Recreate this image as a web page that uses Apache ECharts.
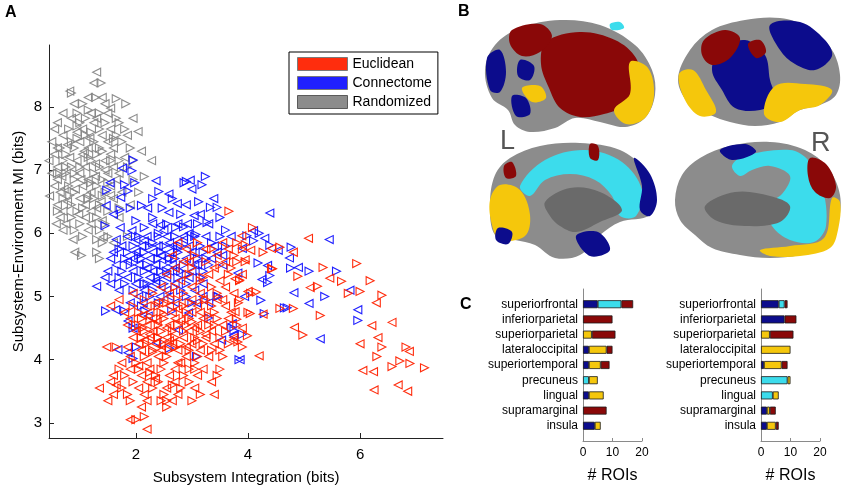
<!DOCTYPE html>
<html lang="en">
<head>
    <meta charset="UTF-8">
    <title>Subsystem integration figure</title>
    <script src="https://cdn.jsdelivr.net/npm/echarts@6.0.0/dist/echarts.min.js"></script>
    <style>
        html, body { margin: 0; padding: 0; background: #fff; }
        #main { width: 850px; height: 490px; }
    </style>
</head>
<body>
<div id="main"></div>
<script type="text/javascript">
    // ---- panel A: scatter points [integration, MI] ----
    var xTicks = [2, 4, 6];
    var yTicks = [3, 4, 5, 6, 7, 8];

    var eucLeft = [
        [2.75,5.85],[3.55,5.85],[2.9,5.75],[3.65,5.75],[2.65,5.65],[3.45,5.65],[2.85,5.55],[3.6,5.55],
        [2.7,5.45],[3.4,5.45],[2.55,5.35],[3.3,5.35],[3.9,5.35],[2.8,5.25],[3.5,5.25],[2.45,5.15],
        [3.0,5.15],[3.6,5.15],[1.95,5.05],[2.6,5.05],[3.15,5.05],[3.75,5.05],[1.7,4.95],[2.5,4.95],
        [3.0,4.95],[3.55,4.95],[1.55,4.85],[2.2,4.85],[2.6,4.85],[3.1,4.85],[3.6,4.85],[1.8,4.75],
        [2.25,4.75],[2.65,4.75],[3.15,4.75],[3.7,4.75],[1.9,4.65],[2.3,4.65],[2.7,4.65],[3.2,4.65],
        [3.65,4.65],[1.85,4.55],[2.2,4.55],[2.6,4.55],[3.1,4.55],[3.55,4.55],[2.0,4.45],[2.3,4.45],
        [2.95,4.45],[3.35,4.45],[1.95,4.35],[2.25,4.35],[2.55,4.35],[2.85,4.35],[3.25,4.35],[3.75,4.35],
        [2.05,4.25],[2.35,4.25],[2.65,4.25],[3.0,4.25],[3.4,4.25],[1.48,4.2],[1.85,4.2],[2.1,4.15],
        [2.45,4.15],[2.75,4.15],[3.15,4.15],[1.9,4.05],[2.4,4.05],[2.9,4.05],[3.3,4.05],[1.75,3.95],
        [2.2,3.95],[2.75,3.95],[1.9,3.85],[2.25,3.85],[2.7,3.85],[3.2,3.85],[1.6,3.75],[2.1,3.75],
        [2.6,3.75],[3.1,3.75],[1.55,3.65],[2.2,3.65],[2.7,3.65],[1.35,3.55],[2.05,3.55],[2.55,3.55],
        [3.05,3.55],[1.6,3.45],[2.15,3.45],[2.75,3.45],[3.4,3.45],[1.5,3.35],[2.2,3.35],[2.65,3.35],
        [2.1,3.25],[1.9,3.05],[2.2,2.9],
        [2.12,4.7],[2.38,4.6],[2.55,4.5],[2.8,4.62],[3.05,4.5],[2.25,4.4],[2.6,4.3],[2.9,4.2],
        [2.35,4.9],[2.75,4.8],[3.2,4.95],[2.15,4.3],[2.45,4.22],[3.25,4.4],[2.05,3.9],[2.35,3.7],
        [2.8,3.95],[3.35,3.65],[1.65,3.6],[3.0,4.75],[3.45,4.95],[2.95,5.55],[3.25,5.75],
        [5.08,5.92],[6.29,4.9],[5.46,5.29],[5.11,5.14],[4.83,4.51],[6.21,4.54],[6.57,4.59],[6.32,4.35],
        [6.0,4.25],[6.88,4.13],[6.05,3.83],[6.24,3.81],[6.25,3.52],[6.68,3.6],[6.85,3.5],[4.2,4.06],
        [3.89,5.96],[4.05,5.73],[4.42,5.76],[4.81,5.7],[3.95,5.58],[3.77,5.28],[4.0,5.08],[3.77,4.76],
        [4.27,4.72],[3.9,4.5],[3.74,4.31]
    ];
    var eucRight = [
        [3.1,5.85],[3.8,5.85],[3.35,5.75],[3.9,5.75],[3.05,5.65],[3.75,5.65],[3.25,5.55],[3.95,5.55],
        [3.0,5.45],[3.7,5.45],[2.95,5.35],[3.65,5.35],[3.15,5.25],[3.85,5.25],[2.7,5.15],[3.35,5.15],
        [2.3,5.05],[2.85,5.05],[3.45,5.05],[4.05,5.05],[2.15,4.95],[2.75,4.95],[3.25,4.95],[3.85,4.95],
        [1.95,4.85],[2.4,4.85],[2.85,4.85],[3.35,4.85],[2.05,4.75],[2.45,4.75],[2.9,4.75],[3.4,4.75],
        [4.0,4.75],[2.1,4.65],[2.5,4.65],[2.95,4.65],[3.45,4.65],[2.05,4.55],[2.4,4.55],[2.9,4.55],
        [3.3,4.55],[3.8,4.55],[2.15,4.45],[2.45,4.45],[2.65,4.45],[3.15,4.45],[3.6,4.45],[2.1,4.35],
        [2.4,4.35],[2.7,4.35],[3.05,4.35],[3.5,4.35],[2.2,4.25],[2.5,4.25],[2.8,4.25],[3.2,4.25],
        [3.65,4.25],[1.65,4.2],[3.9,4.2],[2.3,4.15],[2.6,4.15],[2.95,4.15],[3.35,4.15],[2.15,4.05],
        [2.55,4.05],[3.1,4.05],[3.55,4.05],[2.0,3.95],[2.5,3.95],[3.05,3.95],[2.05,3.85],[2.45,3.85],
        [2.95,3.85],[3.5,3.85],[1.8,3.75],[2.35,3.75],[2.85,3.75],[3.45,3.75],[1.95,3.65],[2.4,3.65],
        [2.95,3.65],[1.75,3.55],[2.3,3.55],[2.8,3.55],[1.85,3.45],[2.5,3.45],[3.15,3.45],[1.9,3.35],
        [2.45,3.35],[3.0,3.35],[2.55,3.25],[2.15,3.1],[2.0,3.05],
        [2.25,4.62],[2.5,4.72],[2.75,4.55],[3.0,4.6],[2.12,4.5],[2.4,4.35],[2.7,4.2],[3.1,4.3],
        [2.55,4.9],[2.95,4.9],[3.3,4.7],[2.3,4.12],[2.85,4.45],[3.4,4.55],[2.25,3.8],[2.65,3.6],
        [3.05,3.85],[1.7,3.85],[3.5,4.15],[2.55,3.35],[3.2,5.3],[3.5,5.5],
        [5.94,5.52],[5.34,5.46],[6.18,5.25],[6.39,5.02],[6.0,5.08],[5.79,5.05],[5.67,5.24],[5.24,5.16],
        [4.89,5.32],[5.29,4.7],[4.98,4.39],[6.39,4.2],[6.82,4.2],[6.3,4.05],[6.71,3.98],[6.57,3.89],
        [6.89,3.94],[7.15,3.87],[4.57,4.81],[4.81,4.81],[4.44,5.44],[4.08,6.09],[3.66,6.35],[4.15,5.07],
        [3.95,5.82],[4.27,5.7],[4.57,5.78],[3.8,5.55],[4.42,5.44],[3.85,5.26],[3.83,4.9],[4.04,4.73],
        [3.8,4.64],[3.99,4.38],[3.82,4.28]
    ];

    var conLeft = [
        [1.76,7.03],[1.54,6.8],[1.73,6.57],[1.47,6.44],[1.72,6.09],[2.36,6.83],[2.59,6.62],[2.97,6.84],
        [3.0,6.7],[2.74,6.47],[3.39,6.55],[2.21,6.4],[2.59,6.33],[3.04,6.28],[2.92,6.15],[2.44,6.13],
        [1.93,6.04],[4.39,6.32],
        [2.3,6.15],[2.75,6.15],[3.3,6.15],[1.85,5.95],[2.2,5.95],[2.55,5.95],[2.85,5.95],[3.25,5.95],
        [3.7,5.95],[1.75,5.8],[2.1,5.8],[2.4,5.8],[2.65,5.8],[2.95,5.8],[3.4,5.8],[1.6,5.7],
        [2.0,5.7],[2.3,5.7],[2.6,5.7],[3.0,5.7],[3.45,5.7],[1.55,5.6],[1.95,5.6],[2.25,5.6],
        [2.55,5.6],[2.9,5.6],[3.35,5.6],[1.65,5.5],[2.05,5.5],[2.35,5.5],[2.65,5.5],[3.05,5.5],
        [3.55,5.5],[1.5,5.4],[1.95,5.4],[2.3,5.4],[2.6,5.4],[3.0,5.4],[1.45,5.3],[1.85,5.3],
        [2.25,5.3],[2.55,5.3],[2.95,5.3],[1.55,5.2],[2.0,5.2],[2.35,5.2],[2.7,5.2],[3.2,5.2],
        [1.7,5.1],[2.15,5.1],[2.55,5.1],[3.05,5.1],[2.05,5.0],[2.6,5.0],[3.2,5.0],[1.9,4.9],
        [2.7,4.9],[3.3,4.9],
        [2.15,5.88],[2.45,5.65],[2.7,5.45],[2.2,5.45],[2.85,5.9],[3.1,5.5],[2.5,6.05],[1.85,5.55],
        [2.35,5.25],[2.95,6.0],[3.55,5.65],[3.15,6.3],[2.0,5.9],[2.6,5.85],[1.65,5.9],[1.6,6.3],
        [2.9,6.45],
        [4.1,6.04],[4.3,5.92],[3.9,5.76],[4.54,5.73],[4.74,5.61],[4.35,5.49],[4.9,5.46],[3.82,5.37],
        [4.25,5.27],[4.82,5.06],[3.94,5.0],[5.09,4.89],[3.72,4.57],[3.86,4.0],[5.82,5.1],[5.96,4.79],
        [5.29,4.33],[5.45,5.9],
        [1.3,5.16],[1.64,4.79],[1.86,4.61],[2.13,4.9],[1.86,4.11],[1.68,4.16],[2.37,4.27],[2.76,4.47],
        [3.53,4.31],[2.43,5.0],[2.94,4.74],[3.08,4.9],[2.22,4.69],[3.74,4.38],[1.95,4.5]
    ];
    var conRight = [
        [1.95,7.16],[1.93,6.99],[1.8,6.77],[1.98,6.8],[1.48,6.68],[1.86,6.67],[1.72,6.37],[2.1,6.44],
        [1.45,6.12],[2.0,6.2],[2.41,6.66],[2.86,6.8],[3.24,6.9],[3.18,6.77],[2.3,6.55],[3.12,6.5],
        [3.33,6.41],[3.45,6.41],[2.47,6.4],[2.8,6.3],[3.27,6.17],[2.71,6.09],[2.15,6.09],[3.07,5.98],
        [2.9,6.82],
        [2.55,6.15],[3.1,6.15],[2.05,5.95],[2.4,5.95],[2.7,5.95],[3.05,5.95],[3.5,5.95],[1.95,5.8],
        [2.25,5.8],[2.5,5.8],[2.8,5.8],[3.15,5.8],[3.6,5.8],[1.85,5.7],[2.15,5.7],[2.45,5.7],
        [2.75,5.7],[3.2,5.7],[1.8,5.6],[2.1,5.6],[2.4,5.6],[2.7,5.6],[3.1,5.6],[1.9,5.5],
        [2.2,5.5],[2.5,5.5],[2.85,5.5],[3.3,5.5],[1.75,5.4],[2.15,5.4],[2.45,5.4],[2.8,5.4],
        [3.2,5.4],[1.7,5.3],[2.05,5.3],[2.4,5.3],[2.75,5.3],[3.15,5.3],[1.8,5.2],[2.2,5.2],
        [2.5,5.2],[2.9,5.2],[1.95,5.1],[2.3,5.1],[2.8,5.1],[2.25,5.0],[2.9,5.0],[3.45,5.0],
        [2.4,4.9],[3.0,4.9],
        [2.3,5.85],[2.6,5.6],[2.9,5.35],[2.05,5.65],[3.25,5.6],[2.4,6.0],[2.75,5.75],[2.15,5.2],
        [3.35,5.85],[2.55,5.4],[2.85,6.1],[3.6,6.05],[1.7,5.75],[2.3,6.25],[2.65,6.55],[3.5,6.25],
        [1.9,6.4],
        [3.98,5.96],[4.2,6.0],[4.1,5.88],[4.39,5.81],[4.77,5.78],[4.18,5.53],[4.76,5.45],[5.09,5.4],
        [4.39,5.33],[4.35,5.22],[5.37,5.0],[4.23,4.94],[4.65,4.82],[4.29,4.73],[3.75,4.46],[5.58,5.4],
        [5.96,4.62],[4.7,4.82],
        [1.46,4.77],[1.8,4.77],[1.95,4.5],[2.16,4.77],[1.95,4.02],[2.01,4.2],[2.6,4.18],[3.08,4.05],
        [3.84,4.0],[2.64,4.77],[3.3,4.66],[3.47,5.0],[2.1,4.85],[3.71,4.5],[3.9,4.4]
    ];

    var rndLeft = [
        [1.3,8.55],[1.25,8.38],[0.82,8.25],[1.15,8.15],[1.4,8.15],[0.9,8.05],[1.45,8.05],[2.04,7.61],
        [1.55,7.98],[0.7,7.9],[1.2,7.9],[1.5,7.9],[0.85,7.82],[1.3,7.82],[1.95,7.82],[0.6,7.75],
        [1.25,7.75],[0.55,7.65],[1.05,7.65],[1.55,7.65],[0.95,7.6],[0.7,7.55],[1.4,7.55],[0.5,7.45],
        [1.0,7.45],[1.5,7.45],[0.6,7.35],[1.15,7.35],[1.6,7.35],[0.55,7.25],[1.05,7.25],[1.55,7.25],
        [0.45,7.15],[0.95,7.15],[1.45,7.15],[2.28,7.15],[0.6,7.05],[1.1,7.05],[1.6,7.05],[0.5,6.95],
        [1.0,6.95],[1.5,6.95],[0.6,6.85],[1.15,6.85],[1.65,6.85],[0.55,6.75],[1.05,6.75],[1.55,6.75],
        [0.65,6.65],[1.2,6.65],[1.75,6.65],[0.46,6.59],[1.0,6.55],[1.6,6.55],[0.6,6.45],[1.1,6.45],
        [1.9,6.45],[0.7,6.35],[1.2,6.35],[0.65,6.25],[1.1,6.25],[1.7,6.25],[0.75,6.15],[1.2,6.15],
        [0.7,6.05],[1.15,6.05],[0.88,5.9],[1.42,5.94],[0.91,5.7],[1.6,5.85],
        [0.78,7.4],[1.08,7.3],[1.28,7.1],[0.68,6.9],[0.92,6.7],[1.12,6.6],[1.38,6.5],[0.78,6.5],
        [0.98,6.3],[1.28,6.9],[1.45,7.0],[1.18,7.5],[0.82,7.2],[1.02,6.85],[0.72,6.7],[1.3,6.4],
        [1.55,6.6],[1.7,6.95],[1.8,7.2],[1.85,7.55],[2.1,7.3],[0.58,6.15],[1.4,6.2]
    ];
    var rndRight = [
        [1.38,8.38],[0.85,8.22],[1.28,8.15],[1.05,8.05],[1.82,8.05],[1.65,8.13],[0.95,7.9],[1.35,7.9],
        [1.1,7.82],[1.65,7.82],[1.0,7.75],[1.45,7.75],[1.7,7.75],[0.8,7.65],[1.35,7.65],[1.8,7.65],
        [1.2,7.6],[1.1,7.55],[1.65,7.55],[0.85,7.45],[1.25,7.45],[1.75,7.45],[0.9,7.35],[1.35,7.35],
        [1.9,7.35],[0.75,7.25],[1.3,7.25],[0.7,7.15],[1.2,7.15],[1.7,7.15],[0.85,7.05],[1.35,7.05],
        [1.85,7.05],[0.75,6.95],[1.25,6.95],[0.9,6.85],[1.4,6.85],[1.95,6.85],[0.8,6.75],[1.3,6.75],
        [0.9,6.65],[1.45,6.65],[2.05,6.65],[0.7,6.55],[1.25,6.55],[0.85,6.45],[1.35,6.45],[0.95,6.35],
        [1.5,6.35],[0.85,6.25],[1.3,6.25],[1.0,6.15],[1.45,6.15],[0.9,6.05],[1.35,6.05],[1.05,5.95],
        [1.3,5.9],[1.5,5.95],[1.85,5.95],[1.4,5.85],[1.03,5.65],[1.3,5.7],[1.35,5.6],
        [0.65,7.35],[0.95,7.5],[1.15,7.2],[1.4,7.3],[0.6,6.95],[0.82,6.6],[1.05,6.4],[1.2,6.8],
        [1.5,6.8],[0.75,7.05],[1.0,7.05],[1.55,7.15],[0.9,6.95],[1.15,6.55],[1.4,6.6],[0.6,6.35],
        [1.6,7.5],[1.95,7.15],[2.15,6.9],[1.7,6.4],[0.95,7.7],[1.15,7.95]
    ];

    // ---- panel C: ROI counts per region, stacked blue / cyan / yellow / red ----
    var regions = ['superiorfrontal', 'inferiorparietal', 'superiorparietal', 'lateraloccipital',
        'superiortemporal', 'precuneus', 'lingual', 'supramarginal', 'insula'];
    var leftBlue   = [5, 0, 0, 2, 2, 0, 2, 0, 4];
    var leftCyan   = [8, 0, 0, 0, 0, 2, 0, 0, 0];
    var leftYellow = [0, 0, 3, 6, 4, 3, 5, 0, 2];
    var leftRed    = [4, 10, 8, 2, 3, 0, 0, 8, 0];
    var rightBlue   = [6, 8, 0, 0, 1, 0, 0, 2, 2];
    var rightCyan   = [2, 0, 0, 0, 0, 9, 4, 0, 0];
    var rightYellow = [0, 0, 3, 10, 6, 1, 2, 1, 3];
    var rightRed    = [1, 4, 8, 0, 2, 0, 0, 2, 1];

    var RED = '#ff2200', BLUE = '#1414ff', GRAY = '#868686';
    var C_BLUE = '#0c0c8c', C_CYAN = '#3cdcec', C_YEL = '#f5c70c', C_RED = '#8a0808';
    var FONT = 'Liberation Sans, Arial, Helvetica, sans-serif';

    var myChart = echarts.init(document.getElementById('main'));

    function tri(name, data, color, rot) {
        return {
            name: name,
            type: 'scatter',
            xAxisIndex: 0,
            yAxisIndex: 0,
            symbol: 'triangle',
            symbolSize: 8,
            symbolRotate: rot,
            data: data,
            silent: true,
            itemStyle: {color: 'rgba(255,255,255,0)', borderColor: color, borderWidth: 1.1, opacity: 0.95}
        };
    }

    // stacked bar segment; zeros become empty so no stray border is drawn
    function seg(stack, idx, vals, color) {
        return {
            type: 'bar',
            stack: stack,
            xAxisIndex: idx,
            yAxisIndex: idx,
            barWidth: 8,
            silent: true,
            data: [null].concat(vals.map(function (v) { return v || null; })).concat([null]),
            itemStyle: {color: color, borderColor: '#1a1a1a', borderWidth: 0.8}
        };
    }

    function roiX(idx) {
        return {
            gridIndex: idx, type: 'value', min: 0, max: 20, interval: 10,
            name: '# ROIs', nameLocation: 'middle', nameGap: 27,
            nameTextStyle: {fontSize: 16, color: '#000', fontFamily: FONT},
            axisLine: {show: true, lineStyle: {color: '#8a8a8a'}},
            axisTick: {show: true, inside: true, length: 3, lineStyle: {color: '#8a8a8a'}},
            axisLabel: {fontSize: 12, color: '#000', margin: 6, fontFamily: FONT},
            splitLine: {show: false}
        };
    }
    function roiY(idx) {
        return {
            gridIndex: idx, type: 'category', inverse: true, boundaryGap: false,
            data: [''].concat(regions).concat(['']),
            axisLine: {show: true, lineStyle: {color: '#8a8a8a'}},
            axisTick: {show: false},
            axisLabel: {interval: 0, fontSize: 12, color: '#000', margin: 5, fontFamily: FONT},
            splitLine: {show: false}
        };
    }

    // rough painted hemispheres for panel B (decoration only)
    function blob(points, color) {
        return {type: 'polygon', shape: {points: points, smooth: 0.35}, style: {fill: color}, silent: true};
    }
    var BR = '#8c8c8c', BR_D = '#6a6a6a';
    var brains = [
        // top left: lateral left
        blob([[485,70],[495,45],[520,28],[560,20],[600,25],[635,45],[652,70],[655,95],[645,118],[625,127],[600,122],[575,118],[555,128],[530,132],[515,125],[508,110],[492,98]], BR),
        blob([[546,42],[580,32],[615,40],[636,58],[640,82],[628,104],[604,114],[580,117],[560,108],[549,88],[541,64]], C_RED),
        blob([[512,30],[540,24],[552,36],[540,52],[522,56],[510,44]], C_RED),
        blob([[630,62],[648,68],[654,95],[645,118],[626,124],[614,110],[630,94]], C_YEL),
        blob([[522,88],[540,86],[546,98],[532,102]], C_YEL),
        blob([[487,58],[500,50],[506,72],[500,92],[490,90]], C_BLUE),
        blob([[512,96],[526,98],[530,114],[516,116]], C_BLUE),
        blob([[520,60],[534,66],[530,80],[518,76]], C_BLUE),
        blob([[610,24],[620,22],[624,28],[612,30]], C_CYAN),
        // top right: lateral right
        blob([[678,80],[690,50],[712,30],[745,20],[780,18],[810,28],[832,50],[840,75],[836,95],[820,105],[800,110],[780,122],[755,126],[730,122],[710,115],[690,105]], BR),
        blob([[720,50],[745,40],[765,55],[770,80],[775,100],[760,110],[735,108],[722,90],[712,70]], C_BLUE),
        blob([[770,25],[800,22],[825,40],[832,56],[815,70],[795,64],[780,50]], C_BLUE),
        blob([[704,40],[725,30],[740,38],[730,58],[712,65],[702,55]], C_RED),
        blob([[748,44],[760,40],[766,52],[756,58]], C_RED),
        blob([[679,74],[693,70],[706,90],[716,112],[700,116],[685,100]], C_YEL),
        blob([[775,86],[805,84],[832,90],[820,105],[800,110],[780,122],[764,114]], C_YEL),
        // bottom left: medial left
        blob([[490,205],[495,175],[510,158],[540,146],[580,143],[620,150],[645,170],[656,195],[650,215],[620,222],[600,235],[580,255],[555,258],[535,245],[515,240],[495,235]], BR),
        blob([[520,186],[545,160],[585,150],[622,162],[642,190],[636,216],[620,216],[612,196],[595,180],[570,174],[545,180],[530,196]], C_CYAN),
        blob([[545,202],[570,188],[600,192],[622,210],[600,222],[576,232],[560,226],[550,216]], BR_D),
        blob([[490,200],[500,185],[520,190],[530,215],[525,236],[500,240],[492,225]], C_YEL),
        blob([[634,158],[650,174],[657,200],[650,216],[640,210],[642,186]], C_BLUE),
        blob([[576,236],[598,232],[610,250],[590,256]], C_BLUE),
        blob([[498,228],[512,232],[508,244],[496,240]], C_BLUE),
        blob([[590,144],[598,146],[598,160],[590,158]], C_RED),
        blob([[504,166],[512,162],[516,176],[506,178]], C_RED),
        // bottom right: medial right
        blob([[675,200],[682,175],[700,158],[730,146],[770,142],[805,150],[828,168],[840,195],[838,225],[830,245],[800,255],[770,258],[740,255],[712,248],[695,235],[680,220]], BR),
        blob([[744,156],[790,150],[808,160],[822,186],[826,226],[814,242],[790,240],[772,226],[766,206],[782,194],[790,176],[770,166],[752,170],[740,176],[732,166]], C_CYAN),
        blob([[705,206],[735,192],[770,196],[790,206],[780,222],[745,226],[715,220]], BR_D),
        blob([[810,158],[826,164],[836,186],[830,198],[815,192],[808,176]], C_RED),
        blob([[832,198],[840,202],[838,230],[830,248],[800,256],[770,256],[760,250],[790,246],[824,238]], C_YEL),
        blob([[720,150],[745,144],[756,152],[732,160]], C_BLUE),
        // hemisphere letters
        {type: 'text', left: 500, top: 128, silent: true,
            style: {text: 'L', fontSize: 27, fill: '#555', fontFamily: FONT}},
        {type: 'text', left: 811, top: 130, silent: true,
            style: {text: 'R', fontSize: 27, fill: '#555', fontFamily: FONT}}
    ];

    var panelLetters = [
        {type: 'text', left: 5, top: 5, silent: true,
            style: {text: 'A', fontSize: 16, fontWeight: 'bold', fill: '#000', fontFamily: FONT}},
        {type: 'text', left: 458, top: 4, silent: true,
            style: {text: 'B', fontSize: 16, fontWeight: 'bold', fill: '#000', fontFamily: FONT}},
        {type: 'text', left: 460, top: 297, silent: true,
            style: {text: 'C', fontSize: 16, fontWeight: 'bold', fill: '#000', fontFamily: FONT}}
    ];

    myChart.setOption({
        animation: false,
        textStyle: {fontFamily: FONT},
        graphic: panelLetters.concat(brains),
        legend: {
            orient: 'vertical', left: 289, top: 52,
            padding: [5, 6, 5, 8], itemGap: 5, itemWidth: 50, itemHeight: 13,
            borderColor: '#000', borderWidth: 1, backgroundColor: '#fff',
            selectedMode: false, icon: 'rect',
            textStyle: {fontSize: 14, color: '#000', fontFamily: FONT},
            data: [
                {name: 'Euclidean', itemStyle: {color: RED, borderColor: '#777', borderWidth: 1}},
                {name: 'Connectome', itemStyle: {color: BLUE, borderColor: '#777', borderWidth: 1}},
                {name: 'Randomized', itemStyle: {color: GRAY, borderColor: '#555', borderWidth: 1}}
            ]
        },
        grid: [
            {left: 49, top: 45, width: 394, height: 393},
            {left: 583, top: 289, width: 59, height: 152},
            {left: 761, top: 289, width: 59, height: 152}
        ],
        xAxis: [
            {
                gridIndex: 0, type: 'value', min: 0.45, max: 7.48,
                name: 'Subsystem Integration (bits)', nameLocation: 'middle', nameGap: 32,
                nameTextStyle: {fontSize: 15, color: '#000', fontFamily: FONT},
                axisLine: {show: true, lineStyle: {color: '#222'}},
                axisTick: {show: true, inside: true, length: 5, customValues: xTicks, lineStyle: {color: '#222'}},
                axisLabel: {fontSize: 15, color: '#000', margin: 9, customValues: xTicks, fontFamily: FONT},
                splitLine: {show: false}
            },
            roiX(1),
            roiX(2)
        ],
        yAxis: [
            {
                gridIndex: 0, type: 'value', min: 2.76, max: 8.98,
                name: 'Subsystem-Environment MI (bits)', nameLocation: 'middle', nameGap: 23,
                nameTextStyle: {fontSize: 15, color: '#000', fontFamily: FONT},
                axisLine: {show: true, lineStyle: {color: '#222'}},
                axisTick: {show: true, inside: true, length: 5, customValues: yTicks, lineStyle: {color: '#222'}},
                axisLabel: {fontSize: 15, color: '#000', margin: 7, customValues: yTicks, fontFamily: FONT},
                splitLine: {show: false}
            },
            roiY(1),
            roiY(2)
        ],
        series: [
            tri('Randomized', rndLeft, GRAY, 90),
            tri('Randomized', rndRight, GRAY, -90),
            tri('Connectome', conLeft, BLUE, 90),
            tri('Connectome', conRight, BLUE, -90),
            tri('Euclidean', eucLeft, RED, 90),
            tri('Euclidean', eucRight, RED, -90),
            seg('L', 1, leftBlue, C_BLUE),
            seg('L', 1, leftCyan, C_CYAN),
            seg('L', 1, leftYellow, C_YEL),
            seg('L', 1, leftRed, C_RED),
            seg('R', 2, rightBlue, C_BLUE),
            seg('R', 2, rightCyan, C_CYAN),
            seg('R', 2, rightYellow, C_YEL),
            seg('R', 2, rightRed, C_RED)
        ]
    });
</script>
</body>
</html>
